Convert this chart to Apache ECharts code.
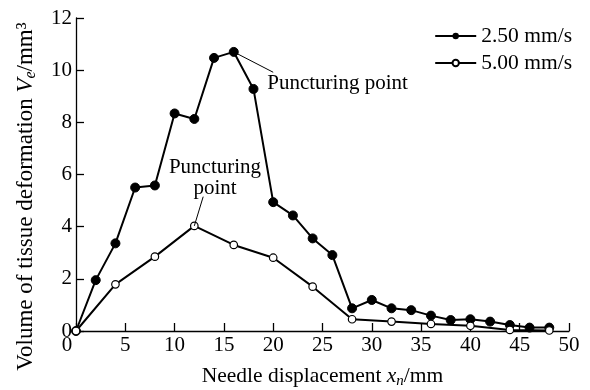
<!DOCTYPE html>
<html><head><meta charset="utf-8">
<script src="https://cdn.jsdelivr.net/npm/echarts@6/dist/echarts.min.js"></script>
<style>html,body{margin:0;padding:0;background:#fff}#c{width:590px;height:390px}</style>
</head><body><div id="c"></div>
<script>
const xSlow = [0,2,4,6,8,10,12,14,16,18,20,22,24,26,28,30,32,34,36,38,40,42,44,46,48];
const ySlow = [0,1.95,3.36,5.5,5.58,8.34,8.13,10.47,10.7,9.28,4.94,4.43,3.55,2.91,0.87,1.19,0.87,0.8,0.59,0.42,0.45,0.36,0.23,0.13,0.13];
const xFast = [0,4,8,12,16,20,24,28,32,36,40,44,48];
const yFast = [0,1.79,2.85,4.03,3.3,2.81,1.7,0.45,0.36,0.27,0.2,0.04,0.02];
const seriesNames = ['2.50 mm/s','5.00 mm/s'];
const annotText = 'Puncturing point';

const FONT = "'Liberation Serif','Times New Roman',serif";
const chart = echarts.init(document.getElementById('c'));
const zip = (xs, ys) => xs.map((x, i) => [x, ys[i]]);
const tf = (size, extra) => Object.assign({fontFamily: FONT, fontSize: size, color: '#000'}, extra || {});
chart.setOption({
  animation: false,
  backgroundColor: '#fff',
  grid: {left: 76, right: 21, top: 18, bottom: 59, outerBoundsMode: 'none', containLabel: false},
  legend: {
    right: 13, top: 20, orient: 'vertical', itemGap: 5,
    itemWidth: 41, itemHeight: 8,
    textStyle: tf(21.5),
    data: seriesNames
  },
  xAxis: {
    type: 'value', min: 0, max: 50, interval: 5,
    axisLine: {lineStyle: {color: '#000', width: 1.3}},
    axisTick: {inside: true, length: 8, lineStyle: {color: '#000', width: 1.3}},
    axisLabel: tf(21, {margin: 4,
      formatter: v => v === 0 ? '{z|0}' : String(v),
      rich: {z: tf(21, {padding: [0, 18, 0, 0]})}}),
    splitLine: {show: false},
    name: '{a|Needle displacement }{i|x}{s|n}{a|/mm}',
    nameLocation: 'middle', nameGap: 33,
    nameTextStyle: {
      rich: {
        a: tf(21.5),
        i: tf(21.5, {fontStyle: 'italic'}),
        s: tf(15, {fontStyle: 'italic', padding: [10, 0, 0, 0]})
      }
    }
  },
  yAxis: {
    type: 'value', min: 0, max: 12, interval: 2,
    axisLine: {show: true, lineStyle: {color: '#000', width: 1.3}},
    axisTick: {show: true, inside: true, length: 8, lineStyle: {color: '#000', width: 1.3}},
    axisLabel: tf(21, {margin: 4}),
    splitLine: {show: false},
    name: '{a|Volume of tissue deformation }{i|V}{s|e}{a|/mm³}',
    nameLocation: 'middle', nameGap: 37, nameRotate: 90,
    nameTextStyle: {
      padding: [0, 44, 0, 0],
      rich: {
        a: tf(23),
        i: tf(23, {fontStyle: 'italic'}),
        s: tf(16, {fontStyle: 'italic', padding: [10, 0, 0, 0]})
      }
    }
  },
  series: [
    {
      name: seriesNames[0], type: 'line', data: zip(xSlow, ySlow),
      symbol: 'circle', symbolSize: 9,
      lineStyle: {color: '#000', width: 2},
      itemStyle: {color: '#000', borderColor: '#000'},
      markLine: {
        silent: true, symbol: ['none', 'none'], label: {show: false},
        lineStyle: {color: '#000', width: 1, type: 'solid'},
        data: [[{coord: [16, 10.7]}, {coord: [20, 9.92]}]]
      },
      markPoint: {
        symbol: 'circle', symbolSize: 0,
        label: Object.assign({show: true, position: 'right', distance: 0, formatter: annotText}, tf(21)),
        data: [{coord: [19.4, 9.48]}]
      }
    },
    {
      name: seriesNames[1], type: 'line', data: zip(xFast, yFast),
      symbol: 'circle', symbolSize: 7.5,
      lineStyle: {color: '#000', width: 2},
      itemStyle: {color: '#fff', borderColor: '#000', borderWidth: 1.2},
      markLine: {
        silent: true, symbol: ['none', 'none'], label: {show: false},
        lineStyle: {color: '#000', width: 1, type: 'solid'},
        data: [[{coord: [12, 4.03]}, {coord: [12.9, 5.15]}]]
      },
      markPoint: {
        symbol: 'circle', symbolSize: 0,
        label: Object.assign({show: true, position: 'inside', formatter: 'Puncturing\npoint', lineHeight: 21, align: 'center'}, tf(21)),
        data: [{coord: [14.1, 5.88]}]
      }
    }
  ]
});
</script></body></html>
